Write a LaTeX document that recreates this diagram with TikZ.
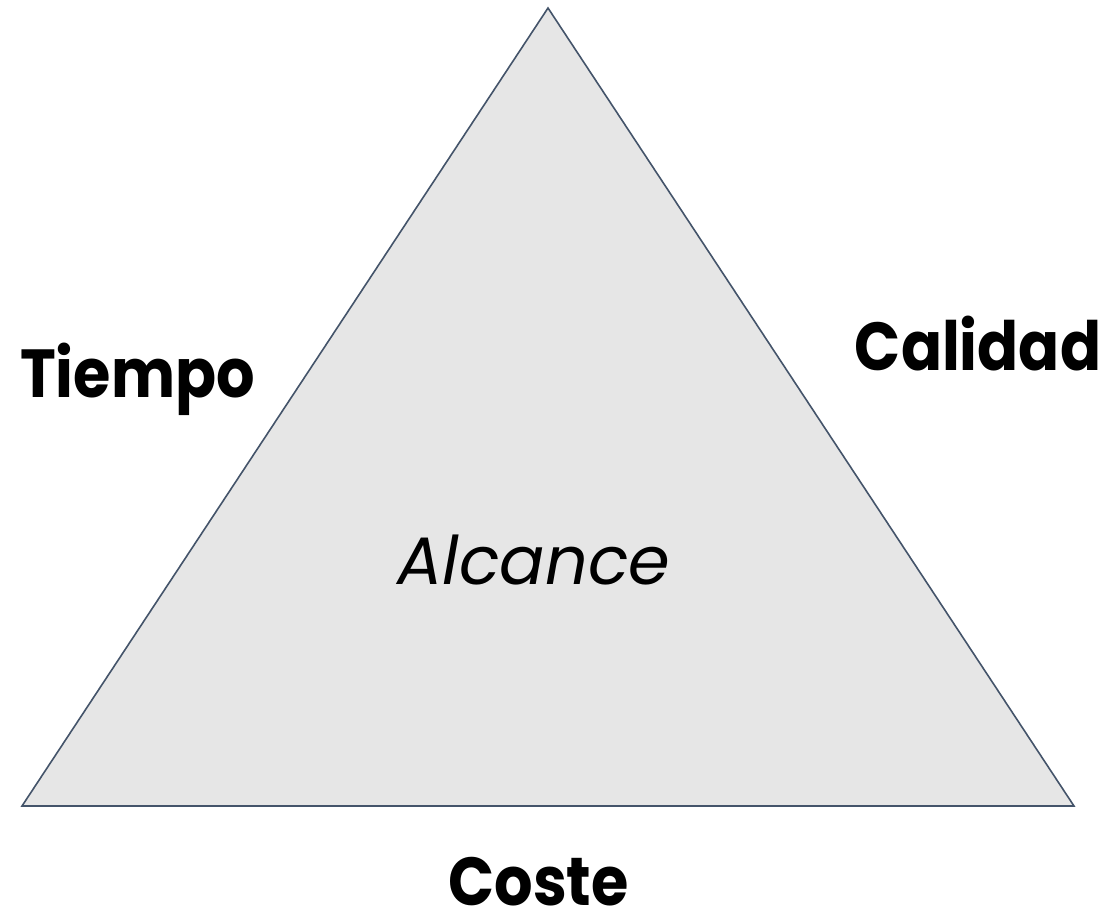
\documentclass[tikz,border=0pt]{standalone}
\usepackage{fontspec}
\setmainfont{Poppins}
\definecolor{edge}{HTML}{44546A}
\definecolor{fillg}{HTML}{E6E6E6}
\begin{document}
\begin{tikzpicture}[x=1pt,y=-1pt,
  lbl/.style={font=\fontsize{68}{72}\selectfont\bfseries, inner sep=0pt, anchor=base, xscale=0.89},
  mid/.style={font=\fontsize{67}{70}\selectfont\itshape, inner sep=0pt, anchor=base}]
\useasboundingbox (0,0) rectangle (1114,911);
\coordinate (top) at (548,8);
\coordinate (bl) at (22,806);
\coordinate (br) at (1074,806);
\filldraw[fill=fillg, draw=edge, line width=1.6pt, line join=miter] (top) -- (bl) -- (br) -- cycle;
\node[lbl] (tiempo) at (137.5,397) {Tiempo};
\node[lbl] (calidad) at (978,370) {Calidad};
\node[lbl] (coste) at (538.5,905) {Coste};
\node[mid] (alcance) at (534,584) {Alcance};
\end{tikzpicture}
\end{document}
